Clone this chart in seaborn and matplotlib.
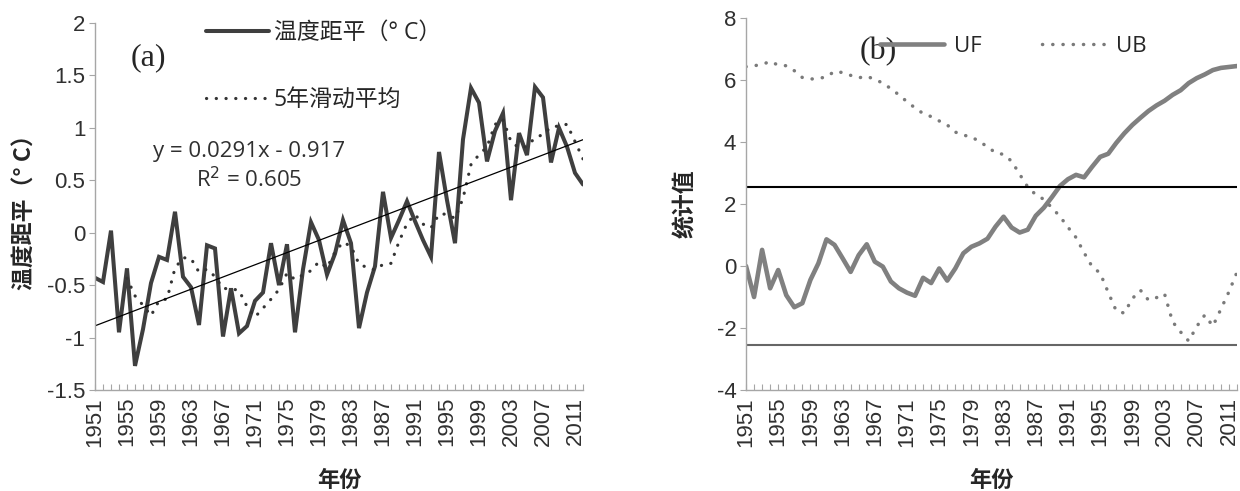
import numpy as np
import pandas as pd
import matplotlib
matplotlib.use("Agg")
import matplotlib.pyplot as plt
import seaborn as sns

# ---------------- data ----------------
years = list(range(1951, 2013))
temp_anomaly = [-0.43, -0.47, 0.02, -0.95, -0.34, -1.27, -0.92, -0.48, -0.23, -0.26,
                0.20, -0.42, -0.52, -0.88, -0.12, -0.15, -0.99, -0.53, -0.96, -0.89,
                -0.65, -0.57, -0.10, -0.50, -0.11, -0.95, -0.35, 0.10, -0.07, -0.40,
                -0.20, 0.12, -0.10, -0.91, -0.57, -0.32, 0.39, -0.05, 0.12, 0.30,
                0.11, -0.07, -0.23, 0.77, 0.31, -0.10, 0.89, 1.38, 1.24, 0.68,
                0.97, 1.14, 0.31, 0.95, 0.74, 1.39, 1.29, 0.67, 1.00, 0.82,
                0.57, 0.46]
trend_slope = 0.0291
trend_intercept = -0.917
r_squared = 0.605

uf = [0.00, -1.00, 0.52, -0.72, -0.13, -0.94, -1.33, -1.20, -0.45, 0.09,
      0.86, 0.68, 0.25, -0.19, 0.35, 0.70, 0.14, -0.02, -0.50, -0.72,
      -0.86, -0.96, -0.38, -0.55, -0.08, -0.47, -0.08, 0.41, 0.62, 0.73,
      0.88, 1.27, 1.59, 1.24, 1.08, 1.17, 1.62, 1.88, 2.22, 2.58,
      2.80, 2.94, 2.86, 3.20, 3.52, 3.62, 3.97, 4.28, 4.55, 4.78,
      5.00, 5.18, 5.33, 5.52, 5.67, 5.90, 6.06, 6.18, 6.32, 6.39,
      6.42, 6.45]
ub = [6.43, 6.46, 6.50, 6.60, 6.48, 6.46, 6.30, 6.08, 6.03, 6.05,
      6.10, 6.28, 6.24, 6.15, 6.07, 6.12, 6.02, 5.90, 5.72, 5.52,
      5.30, 5.10, 4.92, 4.82, 4.68, 4.55, 4.32, 4.22, 4.17, 4.01,
      3.85, 3.65, 3.60, 3.38, 2.96, 2.55, 2.30, 2.15, 1.88, 1.60,
      1.25, 0.92, 0.43, -0.02, -0.23, -0.85, -1.45, -1.52, -1.05, -0.78,
      -1.10, -1.02, -0.90, -1.80, -2.13, -2.42, -1.95, -1.58, -1.94, -1.39,
      -0.83, -0.20]
crit = 2.56

year_labels = [str(y) for y in range(1951, 2012, 4)]

# ---------------- style ----------------
sns.set_theme(style="white")
plt.rcParams['font.family'] = ['Liberation Sans', 'Noto Sans CJK SC', 'DejaVu Sans']
plt.rcParams['axes.unicode_minus'] = False

cjk = ['Noto Sans CJK SC', 'DejaVu Sans']
sans = ['Open Sans', 'Noto Sans CJK SC', 'DejaVu Sans']

fig = plt.figure(figsize=(12.4, 4.91), dpi=100)
ax1 = fig.add_axes([95/1240, 1-390/491, 488/1240, 367/491])
ax2 = fig.add_axes([746/1240, 1-390/491, 491/1240, 372/491])

df = pd.DataFrame({'year': years, 'temp': temp_anomaly, 'uf': uf, 'ub': ub})
df['ma5'] = df['temp'].rolling(5).mean()
df['trend'] = trend_slope * (np.arange(len(years)) + 1) + trend_intercept

spine_col = '#a6a6a6'
tick_col = '#303030'
TICK_FS = 16

def style_axis(ax, ylim, yticks):
    ax.set_xlim(years[0], years[-1])
    ax.set_ylim(*ylim)
    ax.set_yticks(yticks)
    ax.set_yticklabels([('%g' % v) for v in yticks], fontsize=TICK_FS, color=tick_col)
    ax.set_xticks(years, minor=True)
    ax.set_xticks([int(s) for s in year_labels])
    ax.set_xticklabels(year_labels, rotation=90, fontsize=TICK_FS, color=tick_col)
    ax.tick_params(axis='x', which='both', direction='in', length=4, width=0.8,
                   color=spine_col, pad=5, bottom=True)
    ax.tick_params(axis='y', direction='out', length=4, width=0.8, color=spine_col,
                   pad=3, left=True)
    for s in ['top', 'right']:
        ax.spines[s].set_visible(False)
    for s in ['left', 'bottom']:
        ax.spines[s].set_color(spine_col)
        ax.spines[s].set_linewidth(1.0)
    ax.grid(False)
    ax.set_facecolor('white')

# ---------------- panel (a) ----------------
sns.lineplot(data=df, x='year', y='temp', ax=ax1, color='#3f3f3f', lw=2.9,
             label='温度距平（° C）', solid_joinstyle='miter')
sns.lineplot(data=df.dropna(), x='year', y='ma5', ax=ax1, color='#333333', lw=2.3,
             linestyle=(0, (0.05, 3.0)), dash_capstyle='round', label='5年滑动平均')
sns.lineplot(data=df, x='year', y='trend', ax=ax1, color='black', lw=0.9, label='_nolegend_')
style_axis(ax1, (-1.5, 2), np.arange(-1.5, 2.01, 0.5))
ax1.set_xlabel('年份', fontsize=16, fontweight='bold', family=cjk, labelpad=16)
ax1.set_ylabel('温度距平（° C）', fontsize=16.5, fontweight='bold', family=cjk, labelpad=7)
ax1.legend(loc='upper left', bbox_to_anchor=(0.228, 1.005), frameon=False,
           labelspacing=1.85, handlelength=2.75, handletextpad=0.2,
           borderpad=0, borderaxespad=0, prop={'family': sans, 'size': 16.5})
ax1.text(0.072, 0.905, '(a)', transform=ax1.transAxes, fontsize=23,
         family='Liberation Serif', va='center', ha='left')
ax1.text(0.315, 0.649, 'y = %.4fx - %.3f' % (trend_slope, -trend_intercept),
         transform=ax1.transAxes, fontsize=16, family=sans, ha='center', va='center',
         color='#303030')
ax1.text(0.315, 0.572, 'R$^2$ = %.3f' % r_squared, transform=ax1.transAxes,
         fontsize=16, family=sans, ha='center', va='center', color='#303030')

# ---------------- panel (b) ----------------
sns.lineplot(data=df, x='year', y='uf', ax=ax2, color='#808080', lw=3.3, label='UF')
sns.lineplot(data=df, x='year', y='ub', ax=ax2, color='#7a7a7a', lw=2.5,
             linestyle=(0, (0.05, 2.9)), dash_capstyle='round', label='UB')
ax2.axhline(crit, color='black', lw=1.5)
ax2.axhline(-crit, color='#666666', lw=1.5)
style_axis(ax2, (-4, 8), np.arange(-4, 8.1, 2))
ax2.set_xlabel('年份', fontsize=16, fontweight='bold', family=cjk, labelpad=16)
ax2.set_ylabel('统计值', fontsize=16.5, fontweight='bold', family=cjk, labelpad=14)
ax2.legend(loc='upper left', bbox_to_anchor=(0.272, 0.952), frameon=False, ncol=2,
           handlelength=2.9, handletextpad=0.45, columnspacing=2.7,
           borderpad=0, borderaxespad=0, prop={'family': sans, 'size': 16})
ax2.text(0.232, 0.909, '(b)', transform=ax2.transAxes, fontsize=23,
         family='Liberation Serif', va='center', ha='left')

fig.savefig('out.png', dpi=100, facecolor='white')
